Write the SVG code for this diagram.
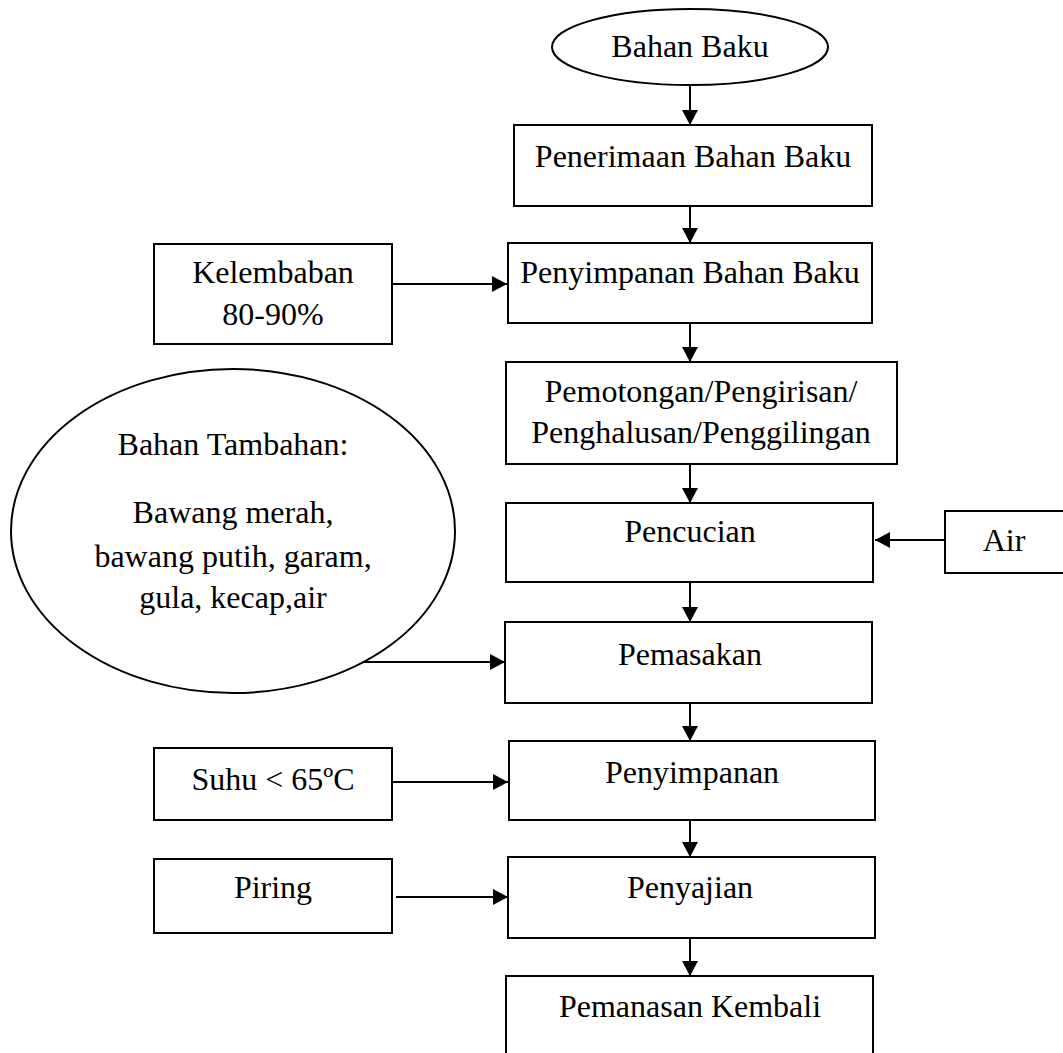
<svg xmlns="http://www.w3.org/2000/svg" width="1063" height="1053" viewBox="0 0 1063 1053">
<style>
.s{fill:#fff;stroke:#000;stroke-width:2}
.t{font-family:"Liberation Serif","Times New Roman",serif;font-size:32px;fill:#000;text-anchor:middle}
.c{stroke:#000;stroke-width:2;fill:none;marker-end:url(#ah)}
</style>
<defs>
<marker id="ah" markerUnits="userSpaceOnUse" markerWidth="16" markerHeight="16" refX="15" refY="8" orient="auto">
<path d="M0,0 L15,8 L0,16 z" fill="#000"/>
</marker>
</defs>
<rect width="1063" height="1053" fill="#fff"/>
<g id="connectors">
<line class="c" x1="690" y1="85" x2="690" y2="125"/>
<line class="c" x1="690" y1="206" x2="690" y2="243"/>
<line class="c" x1="690" y1="323" x2="690" y2="362"/>
<line class="c" x1="690" y1="464" x2="690" y2="503"/>
<line class="c" x1="690" y1="582" x2="690" y2="622"/>
<line class="c" x1="690" y1="703" x2="690" y2="741"/>
<line class="c" x1="690" y1="820" x2="690" y2="857"/>
<line class="c" x1="690" y1="938" x2="690" y2="976"/>
<line class="c" x1="392" y1="284" x2="507" y2="284"/>
<line class="c" x1="945" y1="540" x2="875" y2="540"/>
<line class="c" x1="358" y1="662" x2="505" y2="662"/>
<line class="c" x1="392" y1="782" x2="508" y2="782"/>
<line class="c" x1="396" y1="897" x2="508" y2="897"/>
</g>
<g id="bahan-baku">
<ellipse class="s" cx="690" cy="47" rx="138" ry="38"/>
<text class="t" x="690" y="57">Bahan Baku</text>
</g>
<g id="penerimaan">
<rect class="s" x="514" y="125" width="358" height="81"/>
<text class="t" x="693" y="167">Penerimaan Bahan Baku</text>
</g>
<g id="kelembaban">
<rect class="s" x="154" y="244" width="238" height="100"/>
<text class="t" x="273" y="283">Kelembaban</text>
<text class="t" x="273" y="325">80-90%</text>
</g>
<g id="penyimpanan-bahan">
<rect class="s" x="508" y="243" width="364" height="80"/>
<text class="t" x="690" y="283">Penyimpanan Bahan Baku</text>
</g>
<g id="pemotongan">
<rect class="s" x="506" y="362" width="391" height="102"/>
<text class="t" x="701" y="402">Pemotongan/Pengirisan/</text>
<text class="t" x="701" y="443">Penghalusan/Penggilingan</text>
</g>
<g id="bahan-tambahan">
<ellipse class="s" cx="233" cy="531" rx="222" ry="162"/>
<text class="t" x="233" y="455">Bahan Tambahan:</text>
<text class="t" x="233" y="523">Bawang merah,</text>
<text class="t" x="233" y="567">bawang putih, garam,</text>
<text class="t" x="233" y="608">gula, kecap,air</text>
</g>
<g id="pencucian">
<rect class="s" x="506" y="503" width="367" height="79"/>
<text class="t" x="690" y="542">Pencucian</text>
</g>
<g id="air">
<rect class="s" x="945" y="511" width="130" height="62"/>
<text class="t" x="1004" y="551">Air</text>
</g>
<g id="pemasakan">
<rect class="s" x="505" y="622" width="367" height="81"/>
<text class="t" x="690" y="665">Pemasakan</text>
</g>
<g id="suhu">
<rect class="s" x="154" y="748" width="238" height="72"/>
<text class="t" x="273" y="790">Suhu &lt; 65ºC</text>
</g>
<g id="penyimpanan">
<rect class="s" x="509" y="741" width="366" height="79"/>
<text class="t" x="692" y="783">Penyimpanan</text>
</g>
<g id="piring">
<rect class="s" x="154" y="859" width="238" height="74"/>
<text class="t" x="273" y="898">Piring</text>
</g>
<g id="penyajian">
<rect class="s" x="508" y="857" width="367" height="81"/>
<text class="t" x="690" y="898">Penyajian</text>
</g>
<g id="pemanasan">
<rect class="s" x="506" y="976" width="367" height="90"/>
<text class="t" x="690" y="1017">Pemanasan Kembali</text>
</g>
</svg>
